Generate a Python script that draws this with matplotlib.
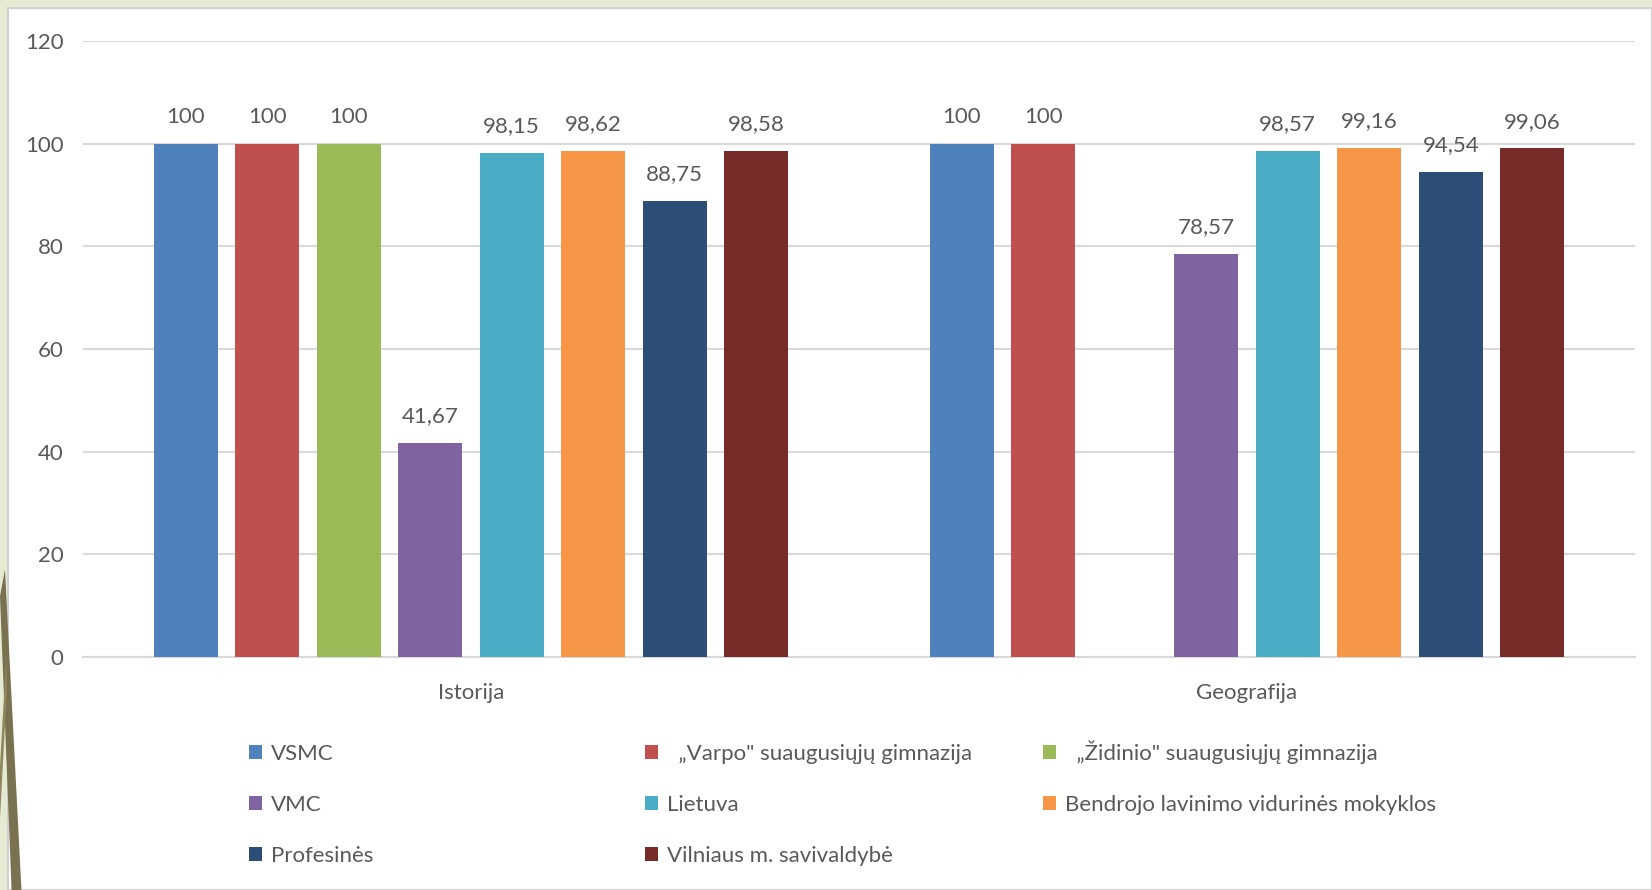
import numpy as np
import matplotlib
matplotlib.use("Agg")
import matplotlib.pyplot as plt
from matplotlib.patches import Rectangle, Polygon

plt.rcParams["font.family"] = ["Lato", "DejaVu Sans"]

categories = ["Istorija", "Geografija"]
series = ["VSMC", "  \u201eVarpo\" suaugusiųjų gimnazija", "  \u201eŽidinio\" suaugusiųjų gimnazija",
          "VMC", "Lietuva", "Bendrojo lavinimo vidurinės mokyklos",
          "Profesinės", "Vilniaus m. savivaldybė"]
colors = ["#4F81BD", "#C0504D", "#9BBB59", "#8064A2",
          "#4BACC6", "#F79646", "#2C4D75", "#772C2A"]
istorija = [100, 100, 100, 41.67, 98.15, 98.62, 88.75, 98.58]
geografija = [100, 100, np.nan, 78.57, 98.57, 99.16, 94.54, 99.06]
yticks = [0, 20, 40, 60, 80, 100, 120]

txt = "#595959"
fs = 16
fig = plt.figure(figsize=(16.52, 8.90), dpi=100)
fig.patch.set_facecolor("#E5EBD2")

# white slide panel with thin border
fig.patches.append(Rectangle((8 / 1652, 0), 1 - 8 / 1652, 1 - 8 / 890, transform=fig.transFigure,
                             facecolor="white", edgecolor="#D0D0D0", lw=1.5, zorder=-2))
# dark olive strokes at lower left
fig.patches.append(Polygon([(0, 0.33), (0.007, 0.0), (0.013, 0.0), (0.003, 0.36)],
                           closed=True, transform=fig.transFigure, facecolor="#7A7150",
                           edgecolor="none", zorder=-1))
fig.patches.append(Polygon([(0, 0.08), (0.004, 0.22), (0.004, 0.27), (0, 0.14)],
                           closed=True, transform=fig.transFigure, facecolor="#8F8760",
                           edgecolor="none", zorder=-1))

ax = fig.add_axes([83 / 1652, 233 / 890, (1635 - 83) / 1652, 616 / 890])
ax.set_facecolor("none")

x = np.arange(len(categories))
slot = 0.105
width = 0.0825
handles = []
for j, name in enumerate(series):
    vals = np.array([istorija[j], geografija[j]], dtype=float)
    pos = x + (j - 3.5) * slot
    b = ax.bar(pos, vals, width, color=colors[j], label=name, zorder=3)
    handles.append(b)
    for px, v in zip(pos, vals):
        if np.isnan(v):
            continue
        lab = f"{v:.2f}".replace(".", ",") if v != int(v) else f"{int(v)}"
        ax.annotate(lab, (px, v), xytext=(0, 15), textcoords="offset points",
                    ha="center", va="baseline", fontsize=fs, color=txt)

ax.set_xlim(-0.5, 1.5)
ax.set_ylim(0, 120)
ax.set_yticks(yticks)
ax.set_xticks(x)
ax.set_xticklabels(categories)
ax.tick_params(axis="both", length=0, labelsize=fs, labelcolor=txt)
ax.tick_params(axis="x", pad=19)
ax.tick_params(axis="y", pad=14)
ax.grid(axis="y", color="#D9D9D9", lw=1.5, zorder=0)
for s in ["top", "right", "left"]:
    ax.spines[s].set_visible(False)
ax.spines["bottom"].set_color("#D9D9D9")
ax.spines["bottom"].set_linewidth(1.5)

# legend laid out row-wise in three columns
cols = [[0, 3, 6], [1, 4, 7], [2, 5]]
xs = [249, 645, 1043]
tops = [744, 744, 740]
for c, xx, tt in zip(cols, xs, tops):
    fig.legend([handles[i] for i in c], [series[i] for i in c],
               loc="upper left", bbox_to_anchor=(xx / 1652, 1 - tt / 890),
               frameon=False, fontsize=fs, labelcolor=txt,
               handlelength=0.6, handleheight=0.6, handletextpad=0.4,
               labelspacing=1.4, borderpad=0, borderaxespad=0)

fig.savefig("out.png", dpi=100, facecolor=fig.get_facecolor())
